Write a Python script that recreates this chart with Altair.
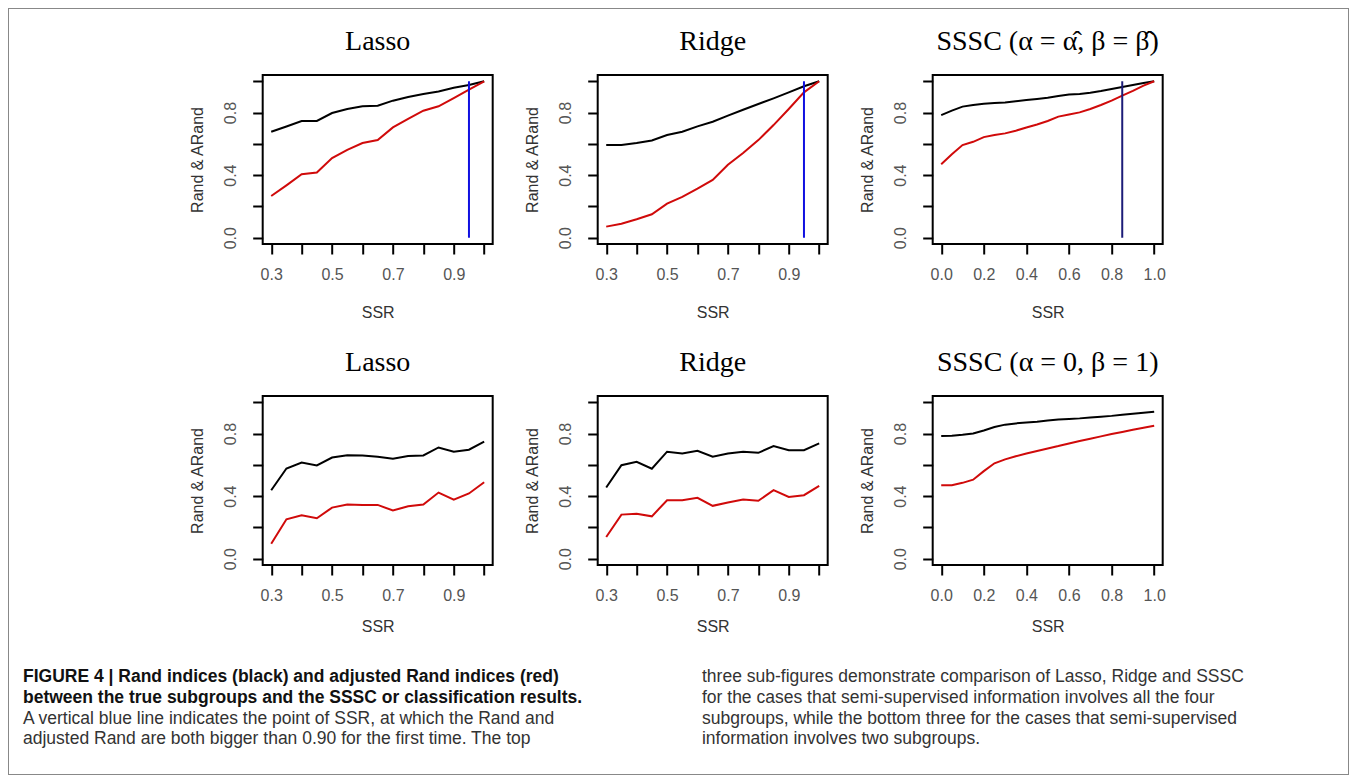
import altair as alt
import pandas as pd

# ---------------- data ----------------
SSR_LR = [0.30, 0.35, 0.40, 0.45, 0.50, 0.55, 0.60, 0.65, 0.70, 0.75, 0.80, 0.85, 0.90, 0.95, 1.00]
SSR_SSSC = [0.00, 0.05, 0.10, 0.15, 0.20, 0.25, 0.30, 0.35, 0.40, 0.45, 0.50,
            0.55, 0.60, 0.65, 0.70, 0.75, 0.80, 0.85, 0.90, 0.95, 1.00]

# top row: semi-supervised information on all four subgroups
LASSO4_RAND = [0.677, 0.711, 0.746, 0.746, 0.797, 0.823, 0.840, 0.844, 0.876, 0.900, 0.919, 0.934, 0.959, 0.976, 1.000]
LASSO4_ARAND = [0.267, 0.335, 0.406, 0.417, 0.509, 0.562, 0.605, 0.624, 0.705, 0.759, 0.812, 0.840, 0.893, 0.947, 1.000]
RIDGE4_RAND = [0.592, 0.592, 0.605, 0.622, 0.656, 0.677, 0.712, 0.741, 0.780, 0.818, 0.855, 0.891, 0.929, 0.968, 1.000]
RIDGE4_ARAND = [0.071, 0.090, 0.118, 0.150, 0.218, 0.261, 0.314, 0.370, 0.466, 0.541, 0.624, 0.720, 0.823, 0.929, 1.000]
SSSC4_RAND = [0.784, 0.812, 0.838, 0.848, 0.857, 0.861, 0.865, 0.872, 0.880, 0.887, 0.895,
              0.906, 0.915, 0.919, 0.927, 0.938, 0.951, 0.964, 0.976, 0.989, 1.000]
SSSC4_ARAND = [0.470, 0.534, 0.592, 0.613, 0.643, 0.656, 0.667, 0.684, 0.705, 0.724, 0.746,
               0.774, 0.788, 0.801, 0.823, 0.848, 0.876, 0.908, 0.938, 0.972, 1.000]

# bottom row: semi-supervised information on two subgroups
LASSO2_RAND = [0.438, 0.577, 0.615, 0.596, 0.647, 0.662, 0.660, 0.652, 0.639, 0.656, 0.660, 0.711, 0.684, 0.697, 0.748]
LASSO2_ARAND = [0.096, 0.252, 0.278, 0.259, 0.327, 0.346, 0.344, 0.344, 0.308, 0.335, 0.346, 0.423, 0.378, 0.417, 0.489]
RIDGE2_RAND = [0.455, 0.598, 0.620, 0.575, 0.684, 0.673, 0.690, 0.652, 0.673, 0.684, 0.677, 0.720, 0.694, 0.694, 0.737]
RIDGE2_ARAND = [0.139, 0.282, 0.288, 0.271, 0.374, 0.374, 0.389, 0.338, 0.359, 0.378, 0.370, 0.438, 0.395, 0.406, 0.466]
SSSC2_RAND = [0.784, 0.786, 0.792, 0.800, 0.820, 0.842, 0.857, 0.865, 0.870, 0.876, 0.884,
              0.890, 0.893, 0.897, 0.903, 0.908, 0.913, 0.920, 0.927, 0.933, 0.940]
SSSC2_ARAND = [0.470, 0.470, 0.485, 0.505, 0.560, 0.610, 0.635, 0.655, 0.672, 0.688, 0.705,
               0.720, 0.737, 0.752, 0.767, 0.782, 0.797, 0.810, 0.824, 0.837, 0.850]

# SSR at which Rand and ARand first both exceed 0.90 (top row only)
BLUE_SSR = [0.95, 0.95, 0.85]
BLUE_SPAN = [0.0, 1.0]

X_TICKS_LR = [0.3, 0.4, 0.5, 0.6, 0.7, 0.8, 0.9, 1.0]
X_TICKS_SSSC = [0.0, 0.2, 0.4, 0.6, 0.8, 1.0]
Y_TICKS = [0.0, 0.2, 0.4, 0.6, 0.8, 1.0]

TITLES_TOP = ["Lasso", "Ridge", "SSSC (\u03b1 = \u03b1\u0302, \u03b2 = \u03b2\u0302)"]
TITLES_BOTTOM = ["Lasso", "Ridge", "SSSC (\u03b1 = 0, \u03b2 = 1)"]

CAPTION_LEFT = [
    "FIGURE 4 | Rand indices (black) and adjusted Rand indices (red)",
    "between the true subgroups and the SSSC or classification results.",
    "A vertical blue line indicates the point of SSR, at which the Rand and",
    "adjusted Rand are both bigger than 0.90 for the first time. The top",
]
CAPTION_RIGHT = [
    "three sub-figures demonstrate comparison of Lasso, Ridge and SSSC",
    "for the cases that semi-supervised information involves all the four",
    "subgroups, while the bottom three for the cases that semi-supervised",
    "information involves two subgroups.",
]
CAPTION_BOLD = [True, True, False, False, False, False, False, False]

# ---------------- styling ----------------
LABEL_FONT = "Liberation Sans"
TITLE_FONT = "Liberation Serif"
PW, PH = 230, 169

LR_DOMAIN = [0.272, 1.028]
SSSC_DOMAIN = [-0.04, 1.04]
Y_DOMAIN = [-0.04, 1.04]


def panel(title, xs, rand, arand, xdom, xticks, xexpr, blue=None, blue_color="#1010e0", xtitle_pad=22):
    df = pd.DataFrame({"SSR": xs, "Rand": rand, "ARand": arand})
    xenc = alt.X(
        "SSR:Q",
        scale=alt.Scale(domain=xdom, nice=False, zero=False),
        axis=alt.Axis(values=xticks, labelExpr=xexpr, title="SSR", titlePadding=xtitle_pad,
                      labelPadding=12, labelFlush=False, labelOverlap=False),
    )
    yaxis = alt.Axis(values=Y_TICKS,
                     labelExpr="round(datum.value*10) % 4 == 0 ? format(datum.value, '.1f') : ''",
                     title="Rand & ARand", labelAngle=270, labelAlign="center", labelBaseline="bottom",
                     labelPadding=14, titlePadding=17, labelOverlap=False)
    yscale = alt.Scale(domain=Y_DOMAIN, nice=False, zero=False)
    base = alt.Chart(df)
    black = base.mark_line(color="black", strokeWidth=2).encode(
        x=xenc, y=alt.Y("Rand:Q", scale=yscale, axis=yaxis))
    red = base.mark_line(color="#d00a0a", strokeWidth=2).encode(
        x=xenc, y=alt.Y("ARand:Q", scale=yscale, axis=yaxis))
    layers = [black, red]
    if blue is not None:
        bdf = pd.DataFrame({"SSR": [blue], "lo": [BLUE_SPAN[0]], "hi": [BLUE_SPAN[1]]})
        rule = alt.Chart(bdf).mark_rule(color=blue_color, strokeWidth=2).encode(
            x=xenc, y=alt.Y("lo:Q", scale=yscale, axis=yaxis), y2="hi:Q")
        layers.append(rule)
    return alt.layer(*layers).properties(
        width=PW, height=PH,
        title=alt.TitleParams(title, font=TITLE_FONT, fontSize=28, fontWeight="normal",
                              color="black", anchor="middle", frame="group", offset=19),
    )


LR_EXPR = "round(datum.value*10) % 2 == 1 ? format(datum.value, '.1f') : ''"
SSSC_EXPR = "format(datum.value, '.1f')"

top = alt.hconcat(
    panel(TITLES_TOP[0], SSR_LR, LASSO4_RAND, LASSO4_ARAND, LR_DOMAIN, X_TICKS_LR, LR_EXPR, BLUE_SSR[0], xtitle_pad=22),
    panel(TITLES_TOP[1], SSR_LR, RIDGE4_RAND, RIDGE4_ARAND, LR_DOMAIN, X_TICKS_LR, LR_EXPR, BLUE_SSR[1], xtitle_pad=22),
    panel(TITLES_TOP[2], SSR_SSSC, SSSC4_RAND, SSSC4_ARAND, SSSC_DOMAIN, X_TICKS_SSSC, SSSC_EXPR, BLUE_SSR[2],
          blue_color="#1c1c78", xtitle_pad=22),
    spacing=105, bounds="flush",
)
bottom = alt.hconcat(
    panel(TITLES_BOTTOM[0], SSR_LR, LASSO2_RAND, LASSO2_ARAND, LR_DOMAIN, X_TICKS_LR, LR_EXPR, xtitle_pad=15),
    panel(TITLES_BOTTOM[1], SSR_LR, RIDGE2_RAND, RIDGE2_ARAND, LR_DOMAIN, X_TICKS_LR, LR_EXPR, xtitle_pad=15),
    panel(TITLES_BOTTOM[2], SSR_SSSC, SSSC2_RAND, SSSC2_ARAND, SSSC_DOMAIN, X_TICKS_SSSC, SSSC_EXPR, xtitle_pad=15),
    spacing=105, bounds="flush",
)

cap_df = pd.DataFrame({
    "text": CAPTION_LEFT + CAPTION_RIGHT,
    "col": [0, 0, 0, 0, 1, 1, 1, 1],
    "line": [0, 1, 2, 3, 0, 1, 2, 3],
    "bold": CAPTION_BOLD,
})
cap_base = alt.Chart(cap_df).encode(
    x=alt.X("col:Q", scale=alt.Scale(domain=[0.0884, 1.947], nice=False, zero=False), axis=None),
    y=alt.Y("line:Q", scale=alt.Scale(domain=[-0.65, 4.6], nice=False, zero=False, reverse=True), axis=None),
    text="text:N",
)
cap_bold = cap_base.transform_filter("datum.bold").mark_text(
    align="left", baseline="middle", font=LABEL_FONT, fontWeight="bold",
    fontSize=17.5, color="#111")
cap_norm = cap_base.transform_filter("!datum.bold").mark_text(
    align="left", baseline="middle", font=LABEL_FONT, fontSize=17.5, color="#333")
caption = alt.layer(cap_bold, cap_norm).properties(
    width=1262, height=110, view=alt.ViewBackground(stroke="transparent"))

chart = alt.vconcat(top, bottom, caption, spacing=27, center=True).properties(
    padding={"left": 12, "top": 18, "right": 0, "bottom": 0},
).configure_view(
    stroke="black", strokeWidth=2,
).configure_axis(
    domain=False, grid=False, ticks=True, tickSize=10, tickWidth=2, tickColor="black",
    labelFont=LABEL_FONT, labelFontSize=16, labelColor="#555",
    titleFont=LABEL_FONT, titleFontSize=16, titleFontWeight="normal", titleColor="#333",
)

chart.save("out.html", embed_options={
    "renderer": "svg", "actions": False,
    "defaultStyle": "#vis.vega-embed{box-sizing:border-box;border:1px solid #888;}",
})
